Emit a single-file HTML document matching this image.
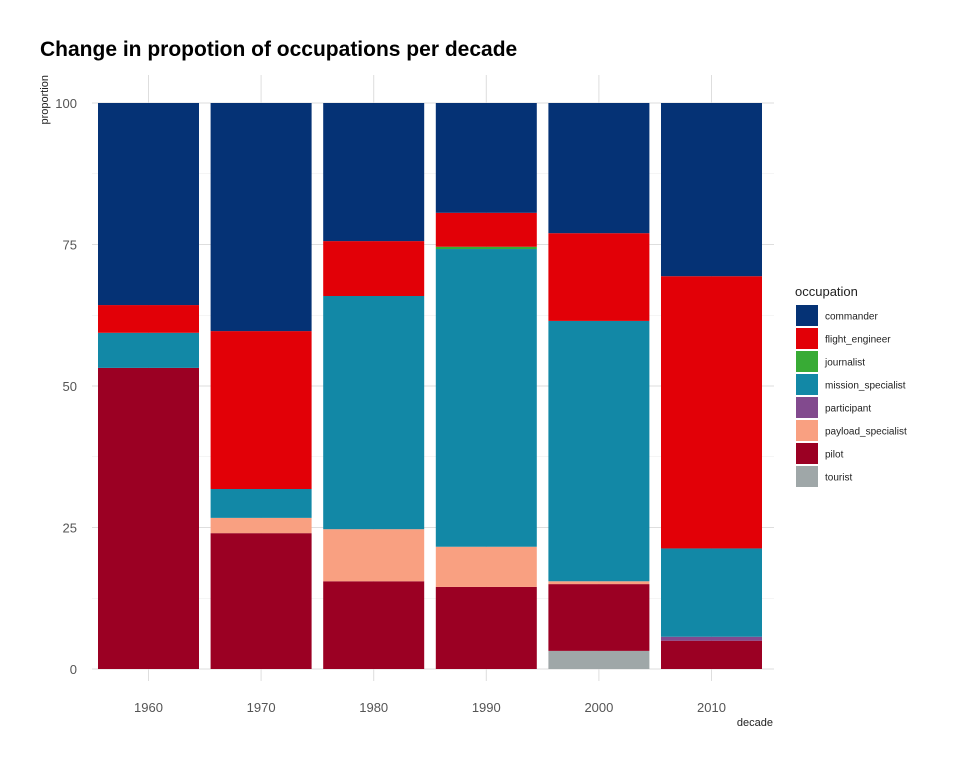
<!DOCTYPE html>
<html><head><meta charset="utf-8"><style>
body{margin:0;background:#fff;}
svg text{font-family:"Liberation Sans",sans-serif;}
</style></head><body>
<svg id="chart" width="960" height="768" xmlns="http://www.w3.org/2000/svg">
<rect width="960" height="768" fill="#fff"/>
<text x="40" y="56" font-size="21" font-weight="bold" fill="#000">Change in propotion of occupations per decade</text>
<g id="grid"></g>
<g id="bars"></g>
<g id="axes"></g>
<g id="legend"></g>
</svg>
<script>
const decades = ["1960","1970","1980","1990","2000","2010"];
const occupations = ["commander","flight_engineer","journalist","mission_specialist","participant","payload_specialist","pilot","tourist"];
const colors = ["#053275","#e20007","#38ab35","#1288a6","#824a8e","#f9a081","#9b0023","#9fa7a8"];
const commander = [35.7,40.3,24.4,19.4,23.0,30.6];
const flight_engineer = [4.9,27.9,9.7,6.0,15.5,48.1];
const journalist = [0,0,0,0.4,0,0];
const mission_specialist = [6.2,5.1,41.2,52.6,46.0,15.6];
const participant = [0,0,0,0,0,0.7];
const payload_specialist = [0,2.7,9.2,7.1,0.5,0];
const pilot = [53.2,24.0,15.5,14.5,11.8,5.0];
const tourist = [0,0,0,0,3.2,0];
const yTicks = [0,25,50,75,100];
const series = [commander,flight_engineer,journalist,mission_specialist,participant,payload_specialist,pilot,tourist];

const NS="http://www.w3.org/2000/svg";
function mk(tag,attrs,parent){const e=document.createElementNS(NS,tag);for(const k in attrs)e.setAttribute(k,attrs[k]);parent.appendChild(e);return e;}
const y0=669,y1=103;
function yScale(v){return y0-(v/100)*(y0-y1);}
const step=112.6,first=148.5,bw=101;
function xScale(i){return first+i*step;}
const grid=document.getElementById('grid'),bars=document.getElementById('bars'),axes=document.getElementById('axes'),legend=document.getElementById('legend');
for(let i=0;i<yTicks.length-1;i++){
  const m=(yTicks[i]+yTicks[i+1])/2;
  const l=mk('line',{x1:92,x2:774,y1:yScale(m),y2:yScale(m),stroke:'#ebebeb','stroke-width':0.6},grid);
  
  
}
yTicks.forEach(t=>{
  const l=mk('line',{x1:92,x2:774,y1:yScale(t),y2:yScale(t),stroke:'#dedede','stroke-width':1},grid);
  
  
  const tx=mk('text',{x:77,y:yScale(t)+5,'text-anchor':'end','font-size':13,fill:'#555'},axes);
  tx.textContent=t;
  
  
});
decades.forEach((d,i)=>{
  const l=mk('line',{x1:xScale(i),x2:xScale(i),y1:75,y2:681,stroke:'#dedede','stroke-width':1},grid);
  
  
  const tx=mk('text',{x:xScale(i),y:712,'text-anchor':'middle','font-size':13,fill:'#555'},axes);
  tx.textContent=d;
  
  
  let cum=0;
  for(let s=series.length-1;s>=0;s--){
    const v=series[s][i];
    if(v<=0)continue;
    const r=mk('rect',{x:xScale(i)-bw/2,y:yScale(cum+v),width:bw,height:yScale(cum)-yScale(cum+v),fill:colors[s]},bars);
    
    
    cum+=v;
  }
});
const xt=mk('text',{x:773,y:726,'text-anchor':'end','font-size':11,fill:'#222'},axes);
xt.textContent='decade';


const yt=mk('text',{x:0,y:0,'text-anchor':'end','font-size':11,fill:'#222',transform:'translate(48,75) rotate(-90)'},axes);
yt.textContent='proportion';


const lt=mk('text',{x:795,y:296,'font-size':13,fill:'#222'},legend);
lt.textContent='occupation';


occupations.forEach((o,k)=>{
  const yy=305+k*23;
  const r=mk('rect',{x:796,y:yy,width:22,height:21,fill:colors[k]},legend);
  
  
  const t=mk('text',{x:825,y:yy+14.5,'font-size':10,fill:'#222'},legend);
  t.textContent=o;
  
  
});
</script>
</body></html>
